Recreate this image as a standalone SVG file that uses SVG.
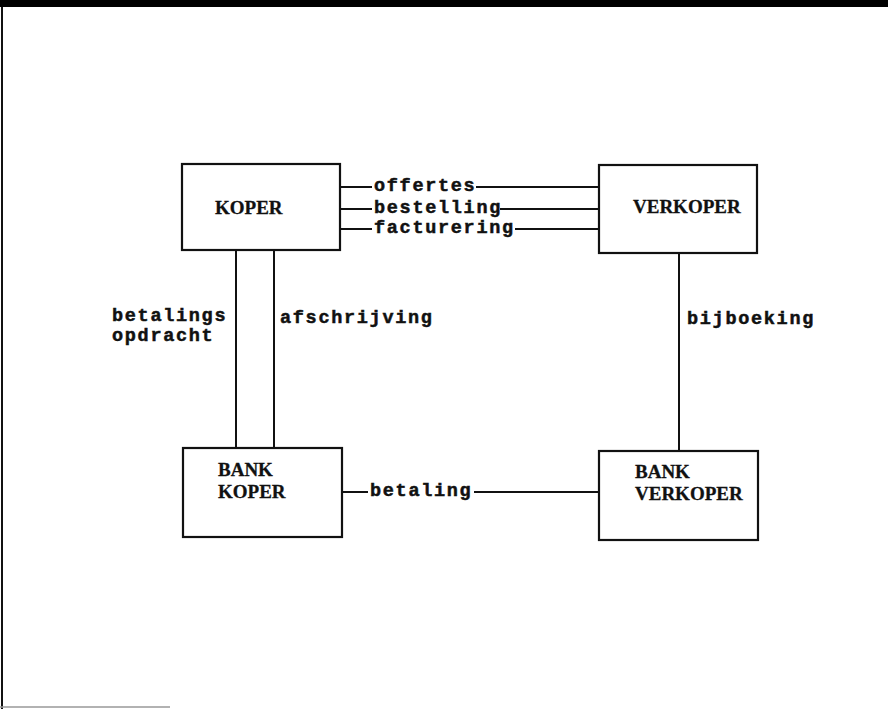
<svg xmlns="http://www.w3.org/2000/svg" width="888" height="709" viewBox="0 0 888 709">
  <style>
    .box { fill: #fff; stroke: #111; stroke-width: 2.2; }
    .wire { stroke: #111; stroke-width: 2; fill: none; }
    .node { font-family: "Liberation Serif", "Times New Roman", serif; font-weight: bold; font-size: 19px; fill: #111; stroke: #111; stroke-width: 0.3; }
    .lbl { font-family: "Liberation Mono", "DejaVu Sans Mono", monospace; font-weight: bold; font-size: 18.5px; letter-spacing: 1.7px; fill: #111; stroke: #111; stroke-width: 0.5; }
  </style>

  <!-- page background and frame -->
  <rect x="0" y="0" width="888" height="709" fill="#fff"/>
  <rect x="0" y="0" width="888" height="7" fill="#000"/>
  <line x1="2" y1="7" x2="2" y2="709" stroke="#111" stroke-width="2"/>
  <line x1="0" y1="707" x2="170" y2="707" stroke="#999" stroke-width="1.5"/>

  <!-- connectors -->
  <g id="connectors">
    <!-- offertes / bestelling / facturering between KOPER and VERKOPER -->
    <line class="wire" x1="340" y1="187" x2="372" y2="187"/>
    <line class="wire" x1="476" y1="187" x2="599" y2="187"/>
    <line class="wire" x1="340" y1="209" x2="372" y2="209"/>
    <line class="wire" x1="500" y1="209" x2="599" y2="209"/>
    <line class="wire" x1="340" y1="229" x2="372" y2="229"/>
    <line class="wire" x1="515" y1="229" x2="599" y2="229"/>
    <!-- KOPER to BANK KOPER -->
    <line class="wire" x1="236" y1="250" x2="236" y2="448"/>
    <line class="wire" x1="274" y1="250" x2="274" y2="448"/>
    <!-- VERKOPER to BANK VERKOPER -->
    <line class="wire" x1="679" y1="253" x2="679" y2="451"/>
    <!-- BANK KOPER to BANK VERKOPER -->
    <line class="wire" x1="342" y1="492" x2="368" y2="492"/>
    <line class="wire" x1="474" y1="492" x2="599" y2="492"/>

    <text class="lbl" x="374" y="191">offertes</text>
    <text class="lbl" x="374" y="213">bestelling</text>
    <text class="lbl" x="374" y="233">facturering</text>
    <text class="lbl" x="112" y="321">betalings</text>
    <text class="lbl" x="112" y="341">opdracht</text>
    <text class="lbl" x="280" y="323">afschrijving</text>
    <text class="lbl" x="687" y="324">bijboeking</text>
    <text class="lbl" x="370" y="496">betaling</text>
  </g>

  <g id="koper">
    <rect class="box" x="182" y="164" width="158" height="86"/>
    <text class="node" x="215" y="214">KOPER</text>
  </g>

  <g id="verkoper">
    <rect class="box" x="599" y="165" width="158" height="88"/>
    <text class="node" x="633" y="213">VERKOPER</text>
  </g>

  <g id="bank-koper">
    <rect class="box" x="183" y="448" width="159" height="89"/>
    <text class="node" x="218" y="476">BANK</text>
    <text class="node" x="218" y="498">KOPER</text>
  </g>

  <g id="bank-verkoper">
    <rect class="box" x="599" y="451" width="159" height="89"/>
    <text class="node" x="635" y="478">BANK</text>
    <text class="node" x="635" y="500">VERKOPER</text>
  </g>
</svg>
